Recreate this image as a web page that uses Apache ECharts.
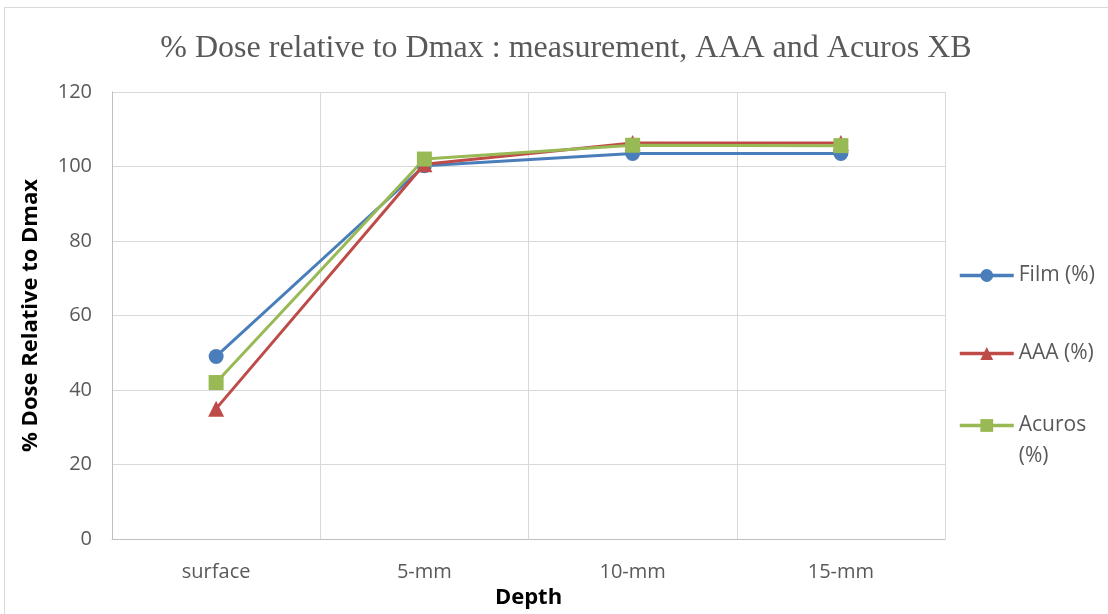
<!DOCTYPE html>
<html><head><meta charset="utf-8">
<script src="https://cdn.jsdelivr.net/npm/echarts@6/dist/echarts.min.js"></script>
<style>html,body{margin:0;padding:0;background:#fff}#c{width:1108px;height:614px}
#frame{position:absolute;left:4px;top:7px;width:1110px;height:620px;border:1px solid #d9d9d9;box-sizing:border-box;pointer-events:none}</style>
</head><body><div id="c"></div><div id="frame"></div>
<script>
const categories = ['surface', '5-mm', '10-mm', '15-mm'];
const filmValues = [49, 100.2, 103.5, 103.5];
const aaaValues = [35, 100.6, 106.3, 106.3];
const acurosValues = [42, 102, 105.7, 105.6];
const seriesNames = ['Film (%)', 'AAA (%)', 'Acuros (%)'];
const titleText = '% Dose relative to Dmax : measurement, AAA and Acuros XB';
const xTitle = 'Depth';
const yTitle = '% Dose Relative to Dmax';

const chart = echarts.init(document.getElementById('c'));
const font = 'Open Sans, Liberation Sans, sans-serif';
function mk(name, data, color, symbol, size) {
  return {name, type: 'line', data, symbol, symbolSize: size,
    lineStyle: {color, width: 3}, itemStyle: {color}, color};
}
const legendBase = {orient: 'vertical', left: 953, itemWidth: 54, itemHeight: 16,
  lineStyle: {width: 3.5}};
const legendText = {fontFamily: font, fontSize: 21, color: '#595959', lineHeight: 20};
chart.setOption({
  animation: false,
  title: {text: titleText, left: 561, top: 28, textAlign: 'center',
    textStyle: {fontFamily: 'Liberation Serif, Times New Roman, serif', fontWeight: 'normal', fontSize: 32, color: '#595959'}},
  grid: {left: 112, right: 163, top: 92, bottom: 74},
  legend: [
    Object.assign({}, legendBase, {top: 260, itemGap: 57, data: seriesNames.slice(0, 2),
      textStyle: legendText}),
    Object.assign({}, legendBase, {top: 374, data: [seriesNames[2]],
      textStyle: Object.assign({}, legendText, {lineHeight: 31}),
      formatter: n => ' \n' + n.replace(' ', '\n')})
  ],
  xAxis: {type: 'category', data: categories, boundaryGap: true,
    name: xTitle, nameLocation: 'middle', nameGap: 48,
    nameTextStyle: {fontFamily: font, fontSize: 22, fontWeight: 'bold', color: '#000'},
    axisLine: {lineStyle: {color: '#bfbfbf', width: 1}}, axisTick: {show: false},
    axisLabel: {fontFamily: font, fontSize: 20, color: '#595959', margin: 23},
    splitLine: {show: true, lineStyle: {color: '#d9d9d9', width: 1}}},
  yAxis: {type: 'value', min: 0, max: 120, interval: 20,
    name: yTitle, nameLocation: 'middle', nameGap: 70,
    nameTextStyle: {fontFamily: font, fontSize: 22, fontWeight: 'bold', color: '#000'},
    axisLine: {show: true, lineStyle: {color: '#bfbfbf', width: 1}}, axisTick: {show: false},
    axisLabel: {fontFamily: font, fontSize: 20, color: '#595959', margin: 20},
    splitLine: {lineStyle: {color: '#d9d9d9', width: 1}}},
  series: [
    mk(seriesNames[0], filmValues, '#4a7ebb', 'circle', 15),
    mk(seriesNames[1], aaaValues, '#be4b48', 'triangle', 16),
    mk(seriesNames[2], acurosValues, '#98b954', 'rect', 15)
  ]
});
</script></body></html>
